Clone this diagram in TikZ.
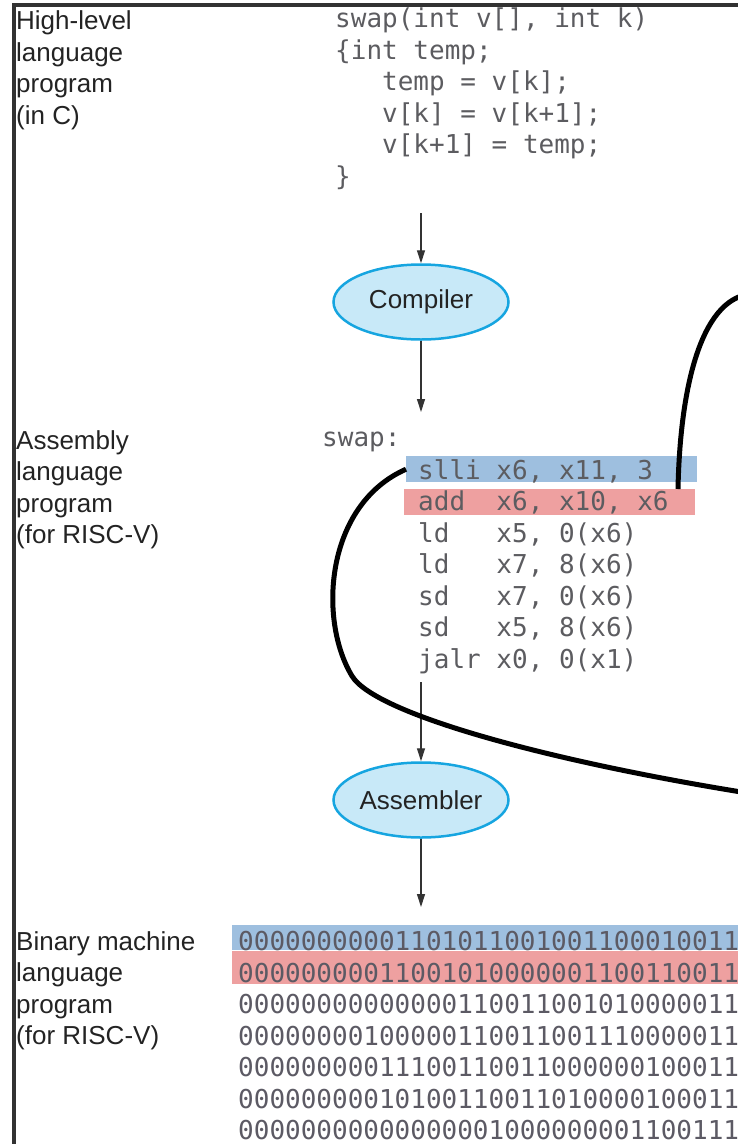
\documentclass[tikz,border=0pt]{standalone}
\usepackage{fontspec}
\setmainfont{Liberation Sans}
\newfontfamily\codefont{DejaVu Sans Mono}
\usepackage{tikz}
\usetikzlibrary{arrows.meta,shapes.geometric}
\definecolor{labelblack}{RGB}{35,35,35}
\definecolor{codegray}{RGB}{92,92,96}
\definecolor{bitgray}{RGB}{92,90,100}
\definecolor{toolfill}{RGB}{200,233,248}
\definecolor{tooldraw}{RGB}{22,165,224}
\definecolor{markblue}{RGB}{126,170,212}
\definecolor{markred}{RGB}{232,128,128}
\definecolor{framegray}{RGB}{50,50,50}
\tikzset{
  levellabel/.style={
    anchor=base west,
    inner sep=0pt,
    align=left,
    text=labelblack,
    font=\fontsize{26}{31.5}\selectfont
  },
  codetext/.style={
    anchor=base west,
    inner sep=0pt,
    align=left,
    text=codegray,
    font=\codefont\fontsize{26}{31.5}\selectfont
  },
  tool/.style={
    ellipse,
    draw=tooldraw,
    line width=2.5pt,
    fill=toolfill,
    minimum width=175pt,
    minimum height=75pt,
    inner sep=0pt,
    text=labelblack,
    font=\fontsize{26}{31.5}\selectfont
  },
  markbar/.style={
    rectangle,
    anchor=north west,
    inner sep=0pt,
    fill opacity=0.75
  },
  flowarrow/.style={
    -{Triangle[length=13pt,width=8pt]},
    line width=1.2pt,
    draw=black!80
  },
  linkcurve/.style={
    line width=5pt,
    draw=black
  }
}

\begin{document}
\begin{tikzpicture}[x=1pt,y=-1pt]
\useasboundingbox (0,0) rectangle (738,1144);
\clip (0,0) rectangle (738,1144);

\draw[line width=3.5pt, draw=framegray] (13.75,1160) -- (13.75,5) -- (760,5);

\node[markbar, fill=markblue, minimum width=291pt, minimum height=26pt] (sllibar) at (406,456) {};
\node[markbar, fill=markred, minimum width=291pt, minimum height=26pt] (addbar) at (404,489) {};
\node[markbar, fill=markblue, minimum width=530pt, minimum height=25pt] (bitsblue) at (232,925) {};
\node[markbar, fill=markred, minimum width=530pt, minimum height=33pt] (bitsred) at (232,951) {};

\node[levellabel] (hllabel) at (16,124) {High-level\\language\\program\\(in C)};
\node[codetext] (ccode) at (335,185) {swap(int v[], int k)\\\{int temp;\\~~~temp = v[k];\\~~~v[k] = v[k+1];\\~~~v[k+1] = temp;\\\}};

\node[tool] (compiler) at (421,302) {Compiler};

\node[levellabel] (asmlabel) at (16,543.5) {Assembly\\language\\program\\(for RISC-V)};
\node[codetext] (swaplabel) at (322,446) {swap:};
\node[codetext] (asmcode) at (418,668) {slli x6, x11, 3\\add~~x6, x10, x6\\ld~~~x5, 0(x6)\\ld~~~x7, 8(x6)\\sd~~~x7, 0(x6)\\sd~~~x5, 8(x6)\\jalr x0, 0(x1)};

\node[tool] (assembler) at (421,800) {Assembler};

\node[levellabel] (binlabel) at (16,1044.5) {Binary machine\\language\\program\\(for RISC-V)};
\node[codetext, text=bitgray] (bincode) at (238,1139.5) {00000000001101011001001100010011\\00000000011001010000001100110011\\00000000000000110011001010000011\\00000000100000110011001110000011\\00000000011100110011000000100011\\00000000010100110011010000100011\\00000000000000001000000001100111};

\coordinate (ccodeout) at (421,213);
\coordinate (asmin) at (421,412);
\coordinate (asmout) at (421,682);
\coordinate (binin) at (421,907);
\coordinate (addend) at (678,489);
\coordinate (edgetop) at (750,294);
\coordinate (sllibend) at (352,676);
\coordinate (edgelow) at (760,795);

\draw[flowarrow] (ccodeout) -- (compiler.north);
\draw[flowarrow] (compiler.south) -- (asmin);
\draw[flowarrow] (asmout) -- (assembler.north);
\draw[flowarrow] (assembler.south) -- (binin);

\draw[linkcurve] (addend) .. controls (680,390) and (700,300) .. (edgetop);
\draw[linkcurve] (sllibar.west) .. controls (325,505) and (318,620) .. (sllibend) .. controls (375,714) and (550,762) .. (edgelow);
\end{tikzpicture}
\end{document}
